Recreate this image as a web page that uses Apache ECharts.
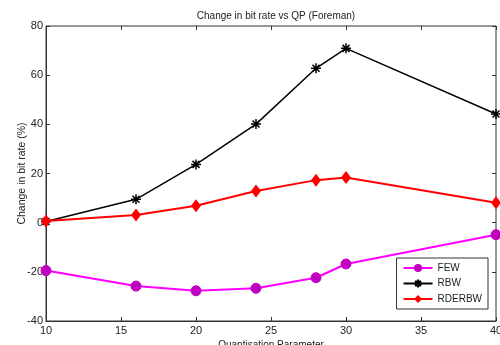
<!DOCTYPE html>
<html><head><meta charset="utf-8">
<script src="https://cdn.jsdelivr.net/npm/echarts@6/dist/echarts.min.js"></script>
<style>html,body{margin:0;padding:0;background:#fff}#c{width:500px;height:345px}</style>
</head><body><div id="c"></div>
<script>
const qp = [10, 16, 20, 24, 28, 30, 40];
const few = [-19.5, -25.8, -27.7, -26.7, -22.4, -16.8, -4.9];
const rbw = [0.5, 9.5, 23.7, 40.1, 62.8, 70.9, 44.2];
const rderbw = [0.7, 3.1, 6.9, 12.9, 17.3, 18.4, 8.1];
const seriesNames = ['FEW', 'RBW', 'RDERBW'];
const xTicks = [10, 15, 20, 25, 30, 35, 40];
const yTicks = [-40, -20, 0, 20, 40, 60, 80];

const pair = (ys) => qp.map((x, i) => [x, ys[i]]);
const star = 'path://M0,-5L0,5M-5,0L5,0M-3.5,-3.5L3.5,3.5M-3.5,3.5L3.5,-3.5';
const font = 'Liberation Sans, Arial, sans-serif';
const chart = echarts.init(document.getElementById('c'));
const tickCommon = {inside: true, length: 4, lineStyle: {color: '#333', width: 1}};
chart.setOption({
  animation: false,
  title: {text: 'Change in bit rate vs QP (Foreman)', left: 271, textAlign: 'center', top: 6,
    textStyle: {fontSize: 10, fontWeight: 'normal', color: '#222', fontFamily: font}},
  grid: {left: 46, right: 4, top: 26, bottom: 24, show: true, borderColor: '#333', borderWidth: 1,
    outerBoundsMode: 'none', containLabel: false},
  legend: {
    orient: 'vertical', right: 12, bottom: 36, data: seriesNames,
    backgroundColor: '#fff', borderColor: '#333', borderWidth: 1, padding: [5, 6, 5, 6],
    itemWidth: 29, itemHeight: 10, itemGap: 4,
    textStyle: {fontSize: 10, color: '#222', fontFamily: font}
  },
  xAxis: [{
    type: 'value', min: 10, max: 40, interval: 5,
    name: 'Quantisation Parameter', nameLocation: 'middle', nameGap: 19, nameMoveOverlap: false,
    nameTextStyle: {fontSize: 10, color: '#222', fontFamily: font, verticalAlign: 'top'},
    axisLine: {onZero: false, lineStyle: {color: '#333'}}, splitLine: {show: false},
    axisTick: tickCommon,
    axisLabel: {fontSize: 11, color: '#222', fontFamily: font, margin: 4, showMaxLabel: true,
      formatter: v => xTicks.includes(v) ? String(v) : ''}
  }, {
    type: 'value', position: 'top', min: 10, max: 40, interval: 5,
    axisLine: {show: false, onZero: false}, splitLine: {show: false}, axisTick: tickCommon, axisLabel: {show: false}
  }],
  yAxis: [{
    type: 'value', min: -40, max: 80, interval: 20,
    name: 'Change in bit rate (%)', nameLocation: 'middle', nameGap: 18, nameMoveOverlap: false,
    nameTextStyle: {fontSize: 10.5, color: '#222', fontFamily: font},
    axisLine: {show: true, onZero: false, lineStyle: {color: '#333'}}, splitLine: {show: false},
    axisTick: tickCommon,
    axisLabel: {fontSize: 11, color: '#222', fontFamily: font, margin: 3,
      formatter: v => yTicks.includes(v) ? String(v) : ''}
  }, {
    type: 'value', position: 'right', min: -40, max: 80, interval: 20,
    axisLine: {show: false, onZero: false}, splitLine: {show: false}, axisTick: tickCommon, axisLabel: {show: false}
  }],
  series: [
    {name: 'FEW', type: 'line', data: pair(few), symbol: 'circle', symbolSize: 10,
      lineStyle: {color: '#ff00ff', width: 2}, itemStyle: {color: '#bf00bf', borderColor: '#bf00bf'},
      color: '#ff00ff', z: 3},
    {name: 'RBW', type: 'line', data: pair(rbw), symbol: star, symbolSize: 10,
      lineStyle: {color: '#000', width: 1.5}, itemStyle: {color: 'none', borderColor: '#000', borderWidth: 1.5},
      color: '#000', z: 4},
    {name: 'RDERBW', type: 'line', data: pair(rderbw), symbol: 'diamond', symbolSize: [10, 13],
      lineStyle: {color: '#ff0000', width: 2}, itemStyle: {color: '#ff0000'},
      color: '#ff0000', z: 5}
  ]
});
</script></body></html>
